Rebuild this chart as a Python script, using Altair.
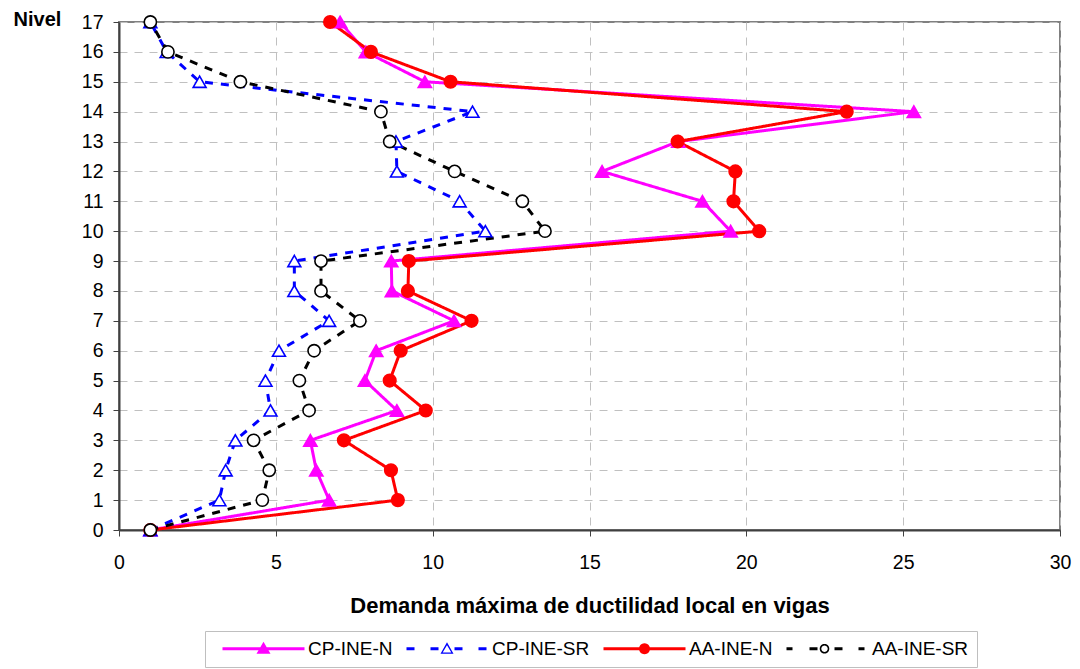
import math
import altair as alt
import pandas as pd

# ---------------- data ----------------
levels = list(range(18))
series_names = ["CP-INE-N", "CP-INE-SR", "AA-INE-N", "AA-INE-SR"]
cp_ine_n = [1.0, 6.70, 6.29, 6.10, 8.86, 7.84, 8.20, 10.68, 8.70, 8.68,
            19.50, 18.60, 15.40, 17.83, 25.34, 9.75, 7.87, 7.05]
cp_ine_sr = [1.0, 3.20, 3.40, 3.71, 4.83, 4.67, 5.10, 6.70, 5.59, 5.59,
             11.68, 10.86, 8.86, 8.83, 11.27, 2.57, 1.52, 1.0]
aa_ine_n = [1.0, 8.89, 8.67, 7.17, 9.78, 8.63, 8.98, 11.24, 9.21, 9.24,
            20.41, 19.59, 19.65, 17.81, 23.20, 10.57, 8.03, 6.73]
aa_ine_sr = [1.0, 4.57, 4.79, 4.29, 6.06, 5.75, 6.22, 7.68, 6.44, 6.44,
             13.58, 12.86, 10.70, 8.63, 8.35, 3.87, 1.56, 1.0]
x_ticks = [0, 5, 10, 15, 20, 25, 30]
y_ticks = levels

# ---------------- styles ----------------
colors = ["#FF00FF", "#0000FF", "#FF0000", "#000000"]
fills = ["#FF00FF", "#FFFFFF", "#FF0000", "#FFFFFF"]
shapes = ["triangle-up", "triangle-up", "circle", "circle"]
sizes = [175, 150, 140, 95]
dashes = [[1, 0], [8, 8], [1, 0], [8, 8]]

rows = []
for name, vals in zip(series_names, [cp_ine_n, cp_ine_sr, aa_ine_n, aa_ine_sr]):
    for lv, v in zip(levels, vals):
        rows.append({"series": name, "leg": name, "nivel": lv, "valor": v})
df = pd.DataFrame(rows)


# ---------- legend symbol paths (line + marker, in pixel units) ----------
def poly(pts):
    return "M" + " L".join(f"{x:.2f},{y:.2f}" for x, y in pts) + " Z"


def bar(x0, x1, h=1.5):
    return poly([(x0, -h), (x1, -h), (x1, h), (x0, h)])


def circ(cx, r, cw=True, n=24):
    pts = [(cx + r * math.cos(2 * math.pi * k / n), r * math.sin(2 * math.pi * k / n))
           for k in range(n)]
    if not cw:
        pts = pts[::-1]
    return poly(pts)


def tri(cx, w=14.0, h=12.0):
    return poly([(cx - w / 2, h / 2 - 1), (cx, -h / 2 - 1), (cx + w / 2, h / 2 - 1)])


def tri_ring(cx):
    outer = poly([(cx - 6.5, 5.0), (cx, -6.5), (cx + 6.5, 5.0)])
    inner = poly([(cx - 4.3, 3.7), (cx + 4.3, 3.7), (cx, -3.6)])
    return outer + " " + inner


W = 82
leg_paths = [
    bar(0, W) + " " + tri(41),
    " ".join([bar(0, 8), bar(24, 32), bar(48, 56), bar(72, 80)]) + " " + tri_ring(40.5),
    bar(0, W) + " " + circ(41, 5.5),
    " ".join([bar(0, 6), bar(23, 31), bar(48, 56), bar(72, 78)]) + " "
    + circ(38, 4.8) + " " + circ(38, 3.2, cw=False),
]

x_axis = alt.Axis(values=x_ticks, title="Demanda máxima de ductilidad local en vigas",
                  titleFontWeight="bold", titleFontSize=22, titleY=75,
                  titleBaseline="middle", labelFontSize=19.5, labelPadding=17,
                  tickSize=6, grid=True, gridDash=[8, 7], gridColor="#C0C0C0",
                  domainColor="#404040", domainWidth=2, tickColor="#404040",
                  labelColor="#000000", titleColor="#000000", labelFlush=False)
y_axis = alt.Axis(values=y_ticks, title="Nivel", titleAngle=0, titleFontWeight="bold",
                  titleFontSize=20, titleX=-82, titleY=-3, titleAlign="center",
                  titleBaseline="middle", labelFontSize=19.5, labelPadding=10,
                  tickSize=6, grid=True, gridDash=[8, 7], gridColor="#C0C0C0",
                  domainColor="#404040", domainWidth=2, tickColor="#404040",
                  labelColor="#000000", titleColor="#000000", labelFlush=False)

base = alt.Chart(df).encode(
    x=alt.X("valor:Q", scale=alt.Scale(domain=[0, 30], nice=False), axis=x_axis),
    y=alt.Y("nivel:Q", scale=alt.Scale(domain=[0, 17], nice=False), axis=y_axis),
)

lines = base.mark_line(strokeWidth=3).encode(
    color=alt.Color("series:N", scale=alt.Scale(domain=series_names, range=colors), legend=None),
    strokeDash=alt.StrokeDash("series:N", scale=alt.Scale(domain=series_names, range=dashes),
                              legend=None),
    order="nivel:Q",
)

points = base.mark_point(strokeWidth=1.6, opacity=1).encode(
    shape=alt.Shape("series:N", scale=alt.Scale(domain=series_names, range=shapes), legend=None),
    fill=alt.Fill("series:N", scale=alt.Scale(domain=series_names, range=fills), legend=None),
    stroke=alt.Stroke("series:N", scale=alt.Scale(domain=series_names, range=colors), legend=None),
    size=alt.Size("series:N", scale=alt.Scale(domain=series_names, range=sizes), legend=None),
)

leg_def = dict(title=None, orient="none", legendX=86, legendY=609, direction="horizontal",
               columns=4, symbolSize=4, symbolStrokeWidth=0, labelOffset=76,
               labelFontSize=19, labelColor="#000000", columnPadding=4, padding=8,
               strokeColor="#BFBFBF", fillColor="#FFFFFF", symbolOpacity=1)

legend_layer = base.mark_point(filled=True, size=0, opacity=1).encode(
    color=alt.Color("leg:N", scale=alt.Scale(domain=series_names, range=colors),
                    legend=alt.Legend(**leg_def)),
    shape=alt.Shape("leg:N", scale=alt.Scale(domain=series_names, range=leg_paths),
                    legend=alt.Legend(**leg_def)),
)

chart = alt.layer(lines, points, legend_layer).resolve_scale(
    color="independent", shape="independent"
).properties(
    width=941, height=508,
    autosize=alt.AutoSizeParams(type="none"),
    padding={"left": 111, "top": 14, "right": 12, "bottom": 139},
).configure(font="Liberation Sans").configure_view(stroke="#808080", strokeWidth=2)

chart.save("out.html", embed_options={"renderer": "svg", "actions": False})
